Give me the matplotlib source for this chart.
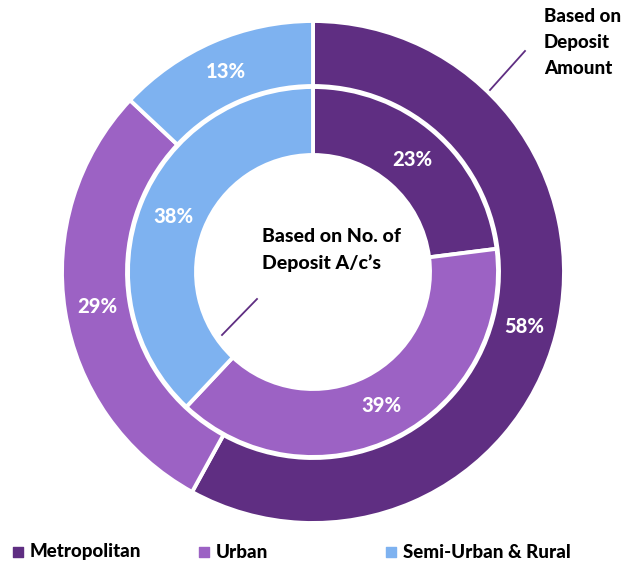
import numpy as np
import matplotlib.pyplot as plt

plt.rcParams['font.family'] = ['Lato', 'DejaVu Sans']

categories = ['Metropolitan', 'Urban', 'Semi-Urban & Rural']
colors = ['#5F2E82', '#9C62C4', '#7EB2F0']
deposit_amount = [58, 29, 13]      # outer ring
deposit_accounts = [23, 39, 38]    # inner ring

W, H = 628, 566
fig = plt.figure(figsize=(W / 100, H / 100), dpi=100)
ax = fig.add_axes([0, 0, 1, 1])

cx, cy = 313, H - 272
WEIGHT = 'black'

def ring(values, r_out, width, label_r):
    wedges, _ = ax.pie(values, colors=colors, radius=r_out, center=(cx, cy),
                       startangle=90, counterclock=False,
                       wedgeprops=dict(width=width, edgecolor='white', linewidth=2.8))
    for w, v in zip(wedges, values):
        ang = np.deg2rad((w.theta1 + w.theta2) / 2)
        ax.text(cx + label_r * np.cos(ang), cy + label_r * np.sin(ang), f'{v}%',
                ha='center', va='center', color='white', fontsize=14.5,
                fontweight=WEIGHT)

ring(deposit_amount, 251, 65, 218)
ring(deposit_accounts, 185, 68, 150)

ax.set_xlim(0, W)
ax.set_ylim(0, H)
ax.set_aspect('equal')
ax.axis('off')

# leader lines and ring captions
ax.plot([490, 525], [H - 90, H - 51], color='#5F2E82', lw=1.3)
for i, line in enumerate(['Based on', 'Deposit', 'Amount']):
    ax.text(544, H - (17 + 25.5 * i), line, ha='left', va='center',
            fontsize=13.5, fontweight=WEIGHT)
ax.plot([222, 257], [H - 335, H - 299], color='#5F2E82', lw=1.3)
for i, line in enumerate(['Based on No. of', 'Deposit A/c\u2019s']):
    ax.text(262, H - (236 + 27 * i), line, ha='left', va='center',
            fontsize=14, fontweight=WEIGHT)

# legend
leg_x = [18, 204, 391]
for x, c, lab in zip(leg_x, colors, categories):
    ax.scatter([x], [H - 552], marker='s', s=45, color=c)
    ax.text(x + 12, H - 552, lab, ha='left', va='center', fontsize=13.5,
            fontweight=WEIGHT)

fig.savefig('out.png', dpi=100)
